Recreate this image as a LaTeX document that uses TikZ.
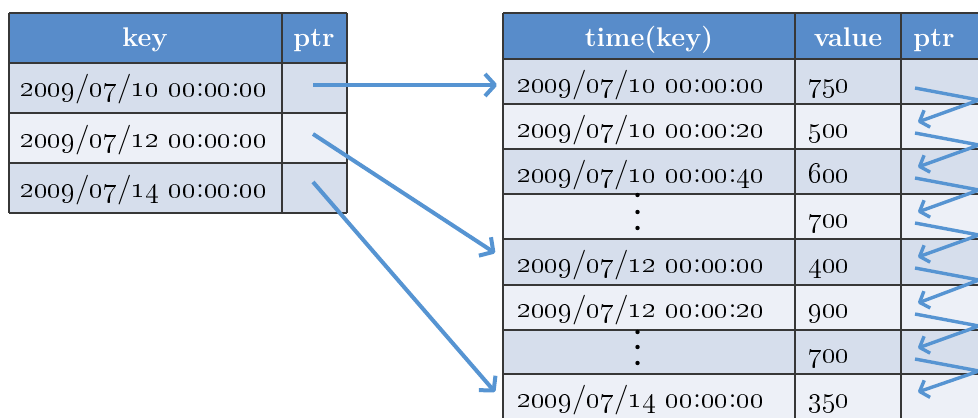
\documentclass[tikz,border=0pt]{standalone}
\usepackage{tikz}
\usetikzlibrary{arrows.meta}

\definecolor{headblue}{RGB}{88,140,202}
\definecolor{rowdark}{RGB}{214,222,236}
\definecolor{rowlight}{RGB}{237,240,247}
\definecolor{arrowblue}{RGB}{86,148,210}
\definecolor{gridgray}{RGB}{55,55,55}

\newcommand{\osn}[1]{\oldstylenums{#1}}
\newcommand{\stamp}[6]{\osn{#1}/\osn{#2}/\osn{#3} \osn{#4}:\osn{#5}:\osn{#6}}

\tikzset{
  cell/.style={font=\fontsize{14.8}{16}\selectfont, anchor=base west, inner sep=0pt},
  head/.style={font=\fontsize{13.5}{15}\selectfont\bfseries, text=white, anchor=base, inner sep=0pt},
  gridline/.style={draw=gridgray, line width=1pt},
  link/.style={draw=arrowblue, line width=2pt, line join=round,
    -{Straight Barb[length=5pt,width=11pt,line join=round]}},
  chain/.style={draw=arrowblue, line width=1.7pt, line join=round,
    -{Straight Barb[length=4pt,width=9pt,line join=round]}},
}

\begin{document}
\begin{tikzpicture}[x=0.5pt,y=-0.5pt]
		\clip (0,0) rectangle (978,417);

		% left table
		\fill[headblue] (9,13) rectangle (347,63);
		\fill[rowdark] (9,63) rectangle (347,113);
		\fill[rowlight] (9,113) rectangle (347,163);
		\fill[rowdark] (9,163) rectangle (347,213);
		\foreach \y in {13,63,113,163,213} \draw[gridline] (9,\y) -- (347,\y);
		\foreach \x in {9,282,347} \draw[gridline] (\x,13) -- (\x,213);

		\node[head] (lkey) at (145,47) {key};
		\node[head] (lptr) at (314,47) {ptr};
		\node[cell] (l1) at (20,97) {\stamp{2009}{07}{10}{00}{00}{00}};
		\node[cell] (l2) at (20,147) {\stamp{2009}{07}{12}{00}{00}{00}};
		\node[cell] (l3) at (20,197) {\stamp{2009}{07}{14}{00}{00}{00}};
		\coordinate (lp1) at (313,85);
		\coordinate (lp2) at (313,134);
		\coordinate (lp3) at (313,182);

		% right table
		\fill[headblue] (503,13) rectangle (990,59);
		\foreach \t/\b/\c in {59/104/rowdark,104/149/rowlight,149/194/rowdark,194/239/rowlight,
		                      239/285/rowdark,285/330/rowlight,330/374/rowdark,374/425/rowlight}
			\fill[\c] (503,\t) rectangle (990,\b);
		\foreach \y in {13,59,104,149,194,239,285,330,374} \draw[gridline] (503,\y) -- (990,\y);
		\foreach \x in {503,795,901} \draw[gridline] (\x,13) -- (\x,425);

		\node[head] (rkey) at (649,47) {time(key)};
		\node[head] (rval) at (848,47) {value};
		\node[head,anchor=base west] (rptr) at (913,47) {ptr};

		\node[cell] (t1) at (517,92) {\stamp{2009}{07}{10}{00}{00}{00}};
		\node[cell] (t2) at (517,137) {\stamp{2009}{07}{10}{00}{00}{20}};
		\node[cell] (t3) at (517,182) {\stamp{2009}{07}{10}{00}{00}{40}};
		\node[cell] (t5) at (517,272) {\stamp{2009}{07}{12}{00}{00}{00}};
		\node[cell] (t6) at (517,317) {\stamp{2009}{07}{12}{00}{00}{20}};
		\node[cell] (t8) at (517,407) {\stamp{2009}{07}{14}{00}{00}{00}};
		\foreach \y in {195,212,228,332,347,363} \fill (637.5,\y) circle (2.2);

		\foreach \i/\y/\v in {1/92/750,2/137/500,3/182/600,4/227/700,5/272/400,6/317/900,7/362/700,8/407/350}
			\node[cell] (v\i) at (808,\y) {\osn{\v}};

		% pointer chain
		\foreach \i/\t in {1/59,2/104,3/149,4/194,5/239,6/285,7/330,8/374} {
			\coordinate (rp\i) at (915,\t+29);
			\coordinate (rb\i) at (979,\t+41);
			\coordinate (rq\i) at (918,\t+18);
		}
		\foreach \i [evaluate=\i as \j using int(\i+1)] in {1,...,7}
			\draw[chain] (rp\i) -- (rb\i) -- (rq\j);

		% index pointers
		\coordinate (rin1) at (497,85);
		\coordinate (rin5) at (495,253);
		\coordinate (rin8) at (495,392);
		\draw[link] (lp1) -- (rin1);
		\draw[link] (lp2) -- (rin5);
		\draw[link] (lp3) -- (rin8);
	\end{tikzpicture}
\end{document}
